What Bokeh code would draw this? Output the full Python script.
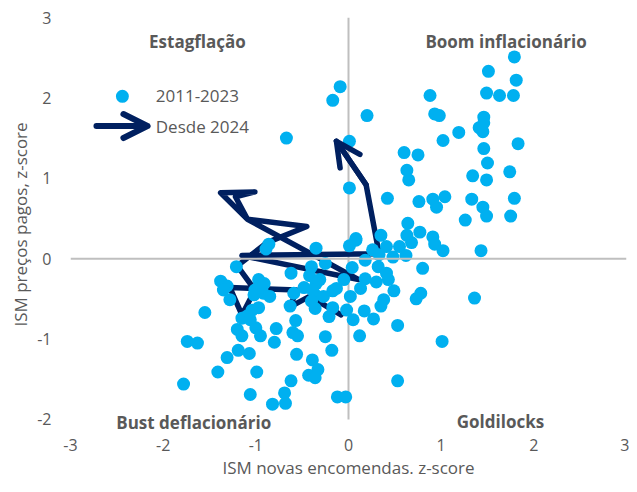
from bokeh.plotting import figure
from bokeh.models import Span, Label, Arrow, OpenHead, Range1d, FixedTicker
from bokeh.embed import file_html
from bokeh.resources import INLINE

# 2011-2023 monthly observations (ISM new orders z-score, ISM prices paid z-score)
hist_x = [1.79, 1.51, 1.81, 1.49, 1.63, 1.78, 0.88, 0.20, 0.93, 0.98, 1.46, 1.41, 1.45, 1.46,
          1.19, 1.02, 1.83, 0.01, 1.46, 0.60, 0.75, 1.50, 0.63, 0.65, 1.34, 1.49, 1.74, 0.01,
          0.42, 0.76, 0.91, 0.95, 1.04, 1.33, 1.45, 1.49, 1.79, 1.75, 1.26, 0.64, 0.77, 0.63,
          0.68, 0.91, 0.93, 1.02, 1.43, 0.35, 0.08, -0.09, -0.17, -0.67,
          0.08, 0.01, 0.26, 0.41, 0.55, 0.48, 0.62, 0.33,
          -0.86, -0.89, -0.35, -1.21, -0.25, -0.40, 0.04, 0.18, 0.32,
          0.41, 0.43, 0.18, 0.30, 0.80, -0.62, -0.42, -0.31, -0.35,
          -0.97, -0.91, -0.05, 0.13, 0.49, -0.48, -0.39, -0.13, -0.17,
          -1.01, -1.02, -0.92, -0.85, -0.59, -0.36, -0.27, -1.28, -1.31,
          0.02, 0.38, 0.35, 0.78, 0.73, -0.63, -0.40, -0.36, -0.17, -0.21,
          -0.02, 0.17, 0.27, 0.05, -0.97, -1.04, -1.09, -1.15, -0.57,
          -0.78, -1.00, -0.95, -1.20, -1.15, -0.60, -0.55, -0.25, 0.12, 0.53, -0.80,
          -1.38, -1.35, -1.55, -1.06, -1.74, -1.63, -1.19, -1.07, -1.31, -1.41, -0.99,
          -1.78, -1.06, -0.82,
          -0.56, -0.39, -0.33, -0.43, -0.36, -0.62, -0.69, -0.68, -0.12, -0.03, -0.18,
          0.53, 1.01, 1.36]
hist_y = [2.51, 2.33, 2.22, 2.06, 2.03, 2.03, 2.03, 1.78, 1.80, 1.78, 1.76, 1.63, 1.58, 1.69,
          1.57, 1.47, 1.43, 1.46, 1.37, 1.32, 1.29, 1.19, 1.10, 0.98, 1.03, 0.98, 1.08, 0.88,
          0.75, 0.71, 0.74, 0.64, 0.77, 0.74, 0.64, 0.53, 0.75, 0.53, 0.48, 0.44, 0.33, 0.29,
          0.20, 0.27, 0.18, 0.10, 0.10, 0.29, 0.25, 2.14, 1.97, 1.50,
          0.23, 0.16, 0.11, 0.15, 0.15, 0.02, 0.04, 0.05,
          0.18, 0.12, 0.13, -0.10, -0.06, -0.10, -0.11, -0.02, -0.10,
          -0.18, -0.26, -0.25, -0.29, -0.12, -0.18, -0.21, -0.26, -0.31,
          -0.26, -0.31, -0.26, -0.37, -0.40, -0.36, -0.39, -0.37, -0.40,
          -0.39, -0.45, -0.43, -0.47, -0.43, -0.45, -0.47, -0.51, -0.34,
          -0.47, -0.51, -0.59, -0.43, -0.50, -0.59, -0.53, -0.62, -0.61, -0.72,
          -0.64, -0.65, -0.75, -0.76, -0.61, -0.64, -0.71, -0.74, -0.77,
          -0.87, -0.86, -0.96, -0.88, -0.96, -0.92, -0.96, -0.97, -0.96, -0.83, -1.04,
          -0.28, -0.39, -0.67, -0.76, -1.03, -1.05, -1.14, -1.18, -1.23, -1.41, -1.41,
          -1.56, -1.69, -1.81,
          -1.19, -1.26, -1.38, -1.45, -1.48, -1.52, -1.67, -1.80, -1.72, -1.72, -1.14,
          -1.52, -1.03, -0.49]

# Since 2024 monthly path
path_x = [-0.08, -0.42, -0.63, -0.56, -1.28, -1.15, -1.01, -1.20, -0.88, -0.45,
          -1.09, -1.38, -1.01, -1.22, -1.09, 0.11, -1.15, 0.33, 0.19, -0.13]
path_y = [-0.70, -0.47, -0.60, -0.39, -0.36, -0.70, -0.39, -0.09, 0.20, 0.40,
          0.49, 0.82, 0.83, 0.77, 0.49, -0.26, 0.04, 0.06, 0.92, 1.46]

x_ticks = [-3, -2, -1, 0, 1, 2, 3]
y_ticks = [-2, -1, 0, 1, 2, 3]
y_min, y_max = -2, 3

quadrants = ["Estagflação", "Boom inflacionário", "Bust deflacionário", "Goldilocks"]
legend_labels = ["2011-2023", "Desde 2024"]

FONT = "Open Sans"
GRAY = "#595959"
BLUE = "#00B0F0"
NAVY = "#002060"

p = figure(width=629, height=484, x_range=Range1d(-3, 3), y_range=Range1d(-2.15, 3),
           output_backend="svg", toolbar_location=None,
           min_border_left=70, min_border_right=3, min_border_top=17, min_border_bottom=53)
p.outline_line_color = None
p.grid.visible = False
p.background_fill_color = "white"

for ax in (p.xaxis[0], p.yaxis[0]):
    ax.axis_line_color = None
    ax.major_tick_line_color = None
    ax.minor_tick_line_color = None
    ax.major_label_text_font = FONT
    ax.major_label_text_font_size = "16px"
    ax.major_label_text_color = GRAY
    ax.axis_label_text_font = FONT
    ax.axis_label_text_font_size = "17px"
    ax.axis_label_text_color = GRAY
    ax.axis_label_text_font_style = "normal"

p.xaxis.ticker = FixedTicker(ticks=x_ticks)
p.yaxis.ticker = FixedTicker(ticks=y_ticks)
p.xaxis.major_label_overrides = {t: str(t) for t in x_ticks}
p.yaxis.major_label_overrides = {t: str(t) for t in y_ticks}
p.xaxis.axis_label = "ISM novas encomendas. z-score"
p.yaxis.axis_label = "ISM preços pagos, z-score"
p.xaxis.major_label_standoff = 1
p.xaxis.axis_label_standoff = 2
p.yaxis.major_label_standoff = 13
p.yaxis.axis_label_standoff = 2

# zero lines
p.add_layout(Span(location=0, dimension="width", line_color="#BFBFBF", line_width=2))
p.line([0, 0], [y_min, y_max], line_color="#BFBFBF", line_width=2)

# path since 2024
p.line(path_x, path_y, line_color=NAVY, line_width=5.5, line_join="round", line_cap="round")
p.add_layout(Arrow(x_start=path_x[-2], y_start=path_y[-2], x_end=path_x[-1], y_end=path_y[-1],
                   line_color=NAVY, line_width=5.5, line_cap="round",
                   end=OpenHead(size=24, line_color=NAVY, line_width=5.5, line_cap="round",
                                line_join="round")))

# history
p.scatter(hist_x, hist_y, size=13, fill_color=BLUE, line_color=None)

# quadrant labels
for txt, x, y in [(quadrants[0], -1.63, 2.70), (quadrants[1], 1.70, 2.70),
                  (quadrants[2], -1.67, -2.04), (quadrants[3], 1.64, -2.02)]:
    p.add_layout(Label(x=x, y=y, text=txt, text_font=FONT, text_font_size="17px",
                       text_font_style="bold", text_color=GRAY,
                       text_align="center", text_baseline="middle"))

# legend
p.scatter([-2.44], [2.02], size=13, fill_color=BLUE, line_color=None)
p.add_layout(Label(x=-2.08, y=2.02, text=legend_labels[0], text_font=FONT, text_font_size="17px",
                   text_color=GRAY, text_align="left", text_baseline="middle"))
p.add_layout(Arrow(x_start=-2.72, y_start=1.65, x_end=-2.17, y_end=1.65,
                   line_color=NAVY, line_width=6, line_cap="round",
                   end=OpenHead(size=24, line_color=NAVY, line_width=6, line_cap="round",
                                line_join="round")))
p.add_layout(Label(x=-2.08, y=1.65, text=legend_labels[1], text_font=FONT, text_font_size="17px",
                   text_color=GRAY, text_align="left", text_baseline="middle"))

open("out.html", "w").write(file_html(p, INLINE))
